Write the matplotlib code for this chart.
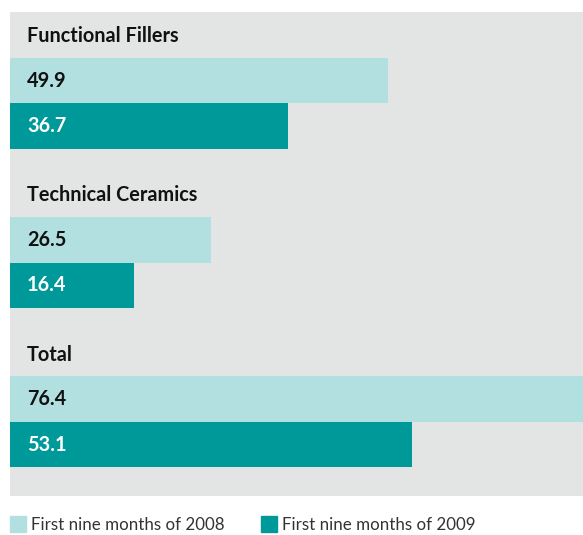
import numpy as np
import matplotlib.pyplot as plt
from matplotlib.patches import Rectangle

groups = ['Functional Fillers', 'Technical Ceramics', 'Total']
values_2008 = [49.9, 26.5, 76.4]
values_2009 = [36.7, 16.4, 53.1]
series_labels = ['First nine months of 2008', 'First nine months of 2009']

light = '#b2dfe0'
dark = '#009999'
panel = '#e3e5e4'

plt.rcParams['font.family'] = ['Lato', 'DejaVu Sans']

fig = plt.figure(figsize=(5.83, 5.35), dpi=100)
ax = fig.add_axes([10 / 583, 39 / 535, 573 / 583, 484 / 535])
ax.set_facecolor(panel)

step = 3.5
base = np.arange(len(groups)) * step
ax.barh(base + 0.5, values_2008, height=1.0, color=light)
ax.barh(base + 1.5, values_2009, height=1.0, color=dark)

dx = 17 / 7.57
fs = 14.3
for i, g in enumerate(groups):
    ax.text(dx, base[i] - 0.48, g, fontsize=fs, fontweight='bold',
            va='center', ha='left', color='#111111')
    ax.text(dx, base[i] + 0.5, f'{values_2008[i]:.1f}', fontsize=fs,
            fontweight='bold', va='center', ha='left', color='#111111')
    ax.text(dx, base[i] + 1.5, f'{values_2009[i]:.1f}', fontsize=fs,
            fontweight='bold', va='center', ha='left', color='white')

ax.set_xlim(0, 75.7)
ax.set_ylim(9.63, -1.01)
ax.set_xticks([])
ax.set_yticks([])
for s in ax.spines.values():
    s.set_visible(False)

# legend drawn in figure pixels
for x0, col, lab in [(10, light, series_labels[0]), (261, dark, series_labels[1])]:
    fig.patches.append(Rectangle((x0 / 583, (535 - 532) / 535), 16 / 583, 16 / 535,
                                 transform=fig.transFigure, color=col))
    fig.text((x0 + 21) / 583, (535 - 525) / 535, lab, fontsize=12.2,
             va='center', ha='left', color='#333333')

fig.savefig('out.png', dpi=100)
